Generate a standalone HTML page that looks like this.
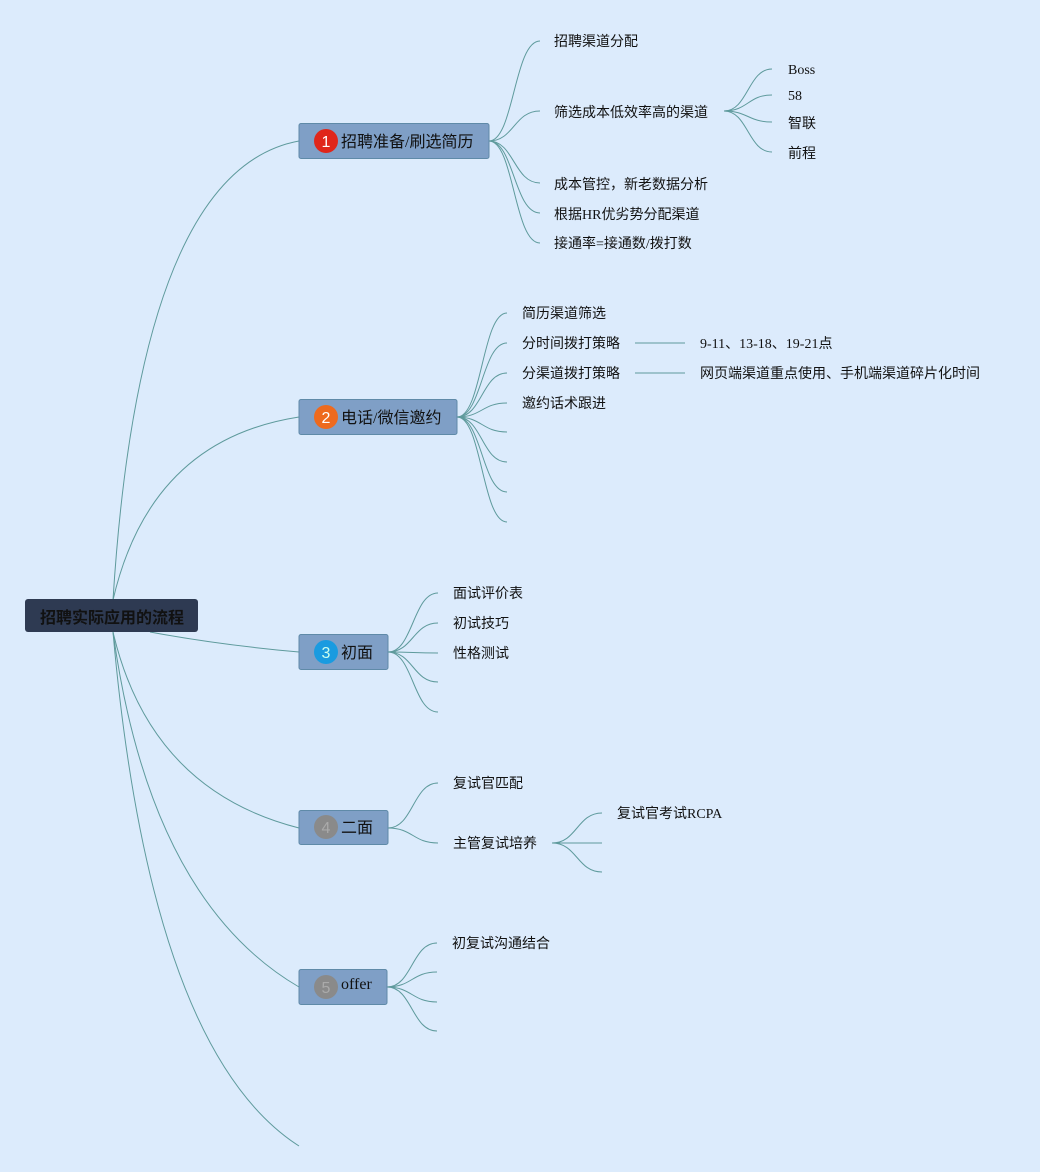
<!DOCTYPE html>
<html><head><meta charset="utf-8"><style>
html,body{margin:0;padding:0;background:#dcebfc;}
svg{display:block}
text{font-family:"Liberation Serif","Noto Sans CJK SC",serif;fill:#111;}
.d{font-family:"Liberation Sans",sans-serif;}
</style></head><body>
<svg width="1040" height="1172" viewBox="0 0 1040 1172" xmlns="http://www.w3.org/2000/svg">
<rect width="1040" height="1172" fill="#dcebfc"/>
<g fill="none" stroke="#5e9a9c" stroke-width="1">
<path d="M113 600 Q140 170 299 141"/>
<path d="M113 600 Q150 440 299 417"/>
<path d="M150 632 Q220 645 299 652"/>
<path d="M113 632 Q150 790 299 828"/>
<path d="M113 632 Q150 900 299 987"/>
<path d="M113 632 Q150 1050 299 1146"/>
<path d="M489 141 C514 141 514 41 540 41"/>
<path d="M489 141 C514 141 514 111 540 111"/>
<path d="M489 141 C514 141 514 183 540 183"/>
<path d="M489 141 C514 141 514 213 540 213"/>
<path d="M489 141 C514 141 514 243 540 243"/>
<path d="M724 111 C748 111 748 69 772 69"/>
<path d="M724 111 C748 111 748 95 772 95"/>
<path d="M724 111 C748 111 748 122 772 122"/>
<path d="M724 111 C748 111 748 152 772 152"/>
<path d="M457 417 C482 417 482 313 507 313"/>
<path d="M457 417 C482 417 482 343 507 343"/>
<path d="M457 417 C482 417 482 373 507 373"/>
<path d="M457 417 C482 417 482 403 507 403"/>
<path d="M457 417 C482 417 482 432 507 432"/>
<path d="M457 417 C482 417 482 462 507 462"/>
<path d="M457 417 C482 417 482 492 507 492"/>
<path d="M457 417 C482 417 482 522 507 522"/>
<path d="M635 343 L685 343"/>
<path d="M635 373 L685 373"/>
<path d="M388 652 C413 652 413 593 438 593"/>
<path d="M388 652 C413 652 413 623 438 623"/>
<path d="M388 652 C413 652 413 653 438 653"/>
<path d="M388 652 C413 652 413 682 438 682"/>
<path d="M388 652 C413 652 413 712 438 712"/>
<path d="M388 828 C413 828 413 783 438 783"/>
<path d="M388 828 C413 828 413 843 438 843"/>
<path d="M552 843 C577 843 577 813 602 813"/>
<path d="M552 843 L602 843"/>
<path d="M552 843 C577 843 577 872 602 872"/>
<path d="M387 987 C412 987 412 943 437 943"/>
<path d="M387 987 C412 987 412 972 437 972"/>
<path d="M387 987 C412 987 412 1002 437 1002"/>
<path d="M387 987 C412 987 412 1031 437 1031"/>
</g>
<rect x="25" y="599" width="173" height="33" rx="3" fill="#2e3a52"/>
<text x="112" y="623" font-size="16" font-weight="bold" text-anchor="middle" fill="#0a0a0a">招聘实际应用的流程</text>
<g stroke="#5f8aa8" fill="#7f9fc6">
<rect x="299" y="123.5" width="190" height="35" rx="2"/>
<rect x="299" y="399.5" width="158" height="35" rx="2"/>
<rect x="299" y="634.5" width="89" height="35" rx="2"/>
<rect x="299" y="810.5" width="89" height="34" rx="2"/>
<rect x="299" y="969.5" width="88" height="35" rx="2"/>
</g>
<circle cx="326" cy="141" r="12" fill="#e0261a"/>
<circle cx="326" cy="417" r="12" fill="#ee6a1e"/>
<circle cx="326" cy="652" r="12" fill="#1a9be0"/>
<circle cx="326" cy="827" r="12" fill="#8a8a8a"/>
<circle cx="326" cy="987" r="12" fill="#8a8a8a"/>
<g font-size="16" text-anchor="middle">
<text class="d" x="326" y="147" style="fill:#fff">1</text>
<text class="d" x="326" y="423" style="fill:#fff">2</text>
<text class="d" x="326" y="658" style="fill:#cfe">3</text>
<text class="d" x="326" y="833" style="fill:#aaa">4</text>
<text class="d" x="326" y="993" style="fill:#aaa">5</text>
</g>
<g font-size="16">
<text x="341" y="147">招聘准备/刷选简历</text>
<text x="341" y="423">电话/微信邀约</text>
<text x="341" y="658">初面</text>
<text x="341" y="833">二面</text>
<text x="341" y="989">offer</text>
</g>
<g font-size="14">
<text x="554" y="46">招聘渠道分配</text>
<text x="554" y="117">筛选成本低效率高的渠道</text>
<text x="554" y="189">成本管控，新老数据分析</text>
<text x="554" y="219">根据HR优劣势分配渠道</text>
<text x="554" y="248">接通率=接通数/拨打数</text>
<text x="788" y="74">Boss</text>
<text x="788" y="100">58</text>
<text x="788" y="128">智联</text>
<text x="788" y="158">前程</text>
<text x="522" y="318">简历渠道筛选</text>
<text x="522" y="348">分时间拨打策略</text>
<text x="522" y="378">分渠道拨打策略</text>
<text x="522" y="408">邀约话术跟进</text>
<text x="700" y="348">9-11、13-18、19-21点</text>
<text x="700" y="378">网页端渠道重点使用、手机端渠道碎片化时间</text>
<text x="453" y="598">面试评价表</text>
<text x="453" y="628">初试技巧</text>
<text x="453" y="658">性格测试</text>
<text x="453" y="788">复试官匹配</text>
<text x="453" y="848">主管复试培养</text>
<text x="617" y="818">复试官考试RCPA</text>
<text x="452" y="948">初复试沟通结合</text>
</g>
</svg>
</body></html>
